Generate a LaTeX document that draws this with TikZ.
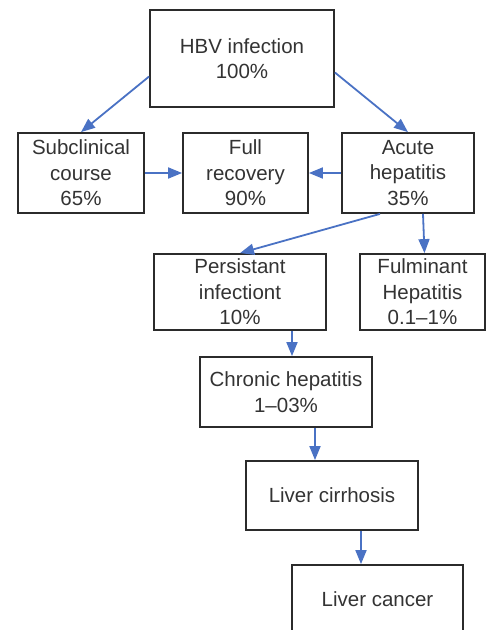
\documentclass[tikz,border=0pt]{standalone}
\usepackage{fontspec}
\setmainfont{Liberation Sans}
\usepackage{xcolor}
\usepackage{tikz}
\usetikzlibrary{arrows.meta}
\definecolor{arrowblue}{HTML}{4A72C4}
\definecolor{boxgray}{HTML}{2B2B2B}
\definecolor{textgray}{HTML}{333333}

\begin{document}
\begin{tikzpicture}[x=1pt,y=-1pt,
   stage/.style={draw=boxgray, line width=1.8pt, align=center, inner sep=0pt,
      text=textgray, font=\fontsize{20.5}{25.5}\selectfont},
   arr/.style={draw=arrowblue, line width=1.8pt, -{Triangle[length=14pt,width=11pt]}}]
   \useasboundingbox (0,0) rectangle (486,630);
   \node[stage, minimum width=184pt, minimum height=97pt] (hbv) at (242,58.5) {HBV infection\\100\%};
   \node[stage, minimum width=126pt, minimum height=80pt] (sub) at (81,173) {Subclinical\\course\\65\%};
   \node[stage, minimum width=125pt, minimum height=80pt] (full) at (245.5,173) {Full\\recovery\\90\%};
   \node[stage, minimum width=132pt, minimum height=80pt] (acute) at (408,173) {Acute\\hepatitis\\35\%};
   \node[stage, minimum width=172pt, minimum height=76pt] (pers) at (240,292) {Persistant\\infectiont\\10\%};
   \node[stage, minimum width=125pt, minimum height=76pt] (fulm) at (422.5,292) {Fulminant\\Hepatitis\\0.1--1\%};
   \node[stage, minimum width=172pt, minimum height=70pt] (chron) at (286,392) {Chronic hepatitis\\1--03\%};
   \node[stage, minimum width=172pt, minimum height=69pt] (cirr) at (332,495.5) {Liver cirrhosis};
   \node[stage, minimum width=171pt, minimum height=68pt] (canc) at (377.5,599) {Liver cancer};
   % arrows
   \draw[arr] ([yshift=-18pt]hbv.west) -- (sub.north);
   \draw[arr] ([yshift=-14pt]hbv.east) -- (acute.north);
   \draw[arr] (sub.east) -- (full.west);
   \draw[arr] (acute.west) -- (full.east);
   \draw[arr] ([xshift=-28pt]acute.south) -- (pers.north);
   \draw[arr] ([xshift=15pt]acute.south) -- ([xshift=2pt]fulm.north);
   \draw[arr] ([xshift=52pt]pers.south) -- ([xshift=6pt]chron.north);
   \draw[arr] ([xshift=29pt]chron.south) -- ([xshift=-17pt]cirr.north);
   \draw[arr] ([xshift=29pt]cirr.south) -- ([xshift=-16.5pt]canc.north);
\end{tikzpicture}
\end{document}
